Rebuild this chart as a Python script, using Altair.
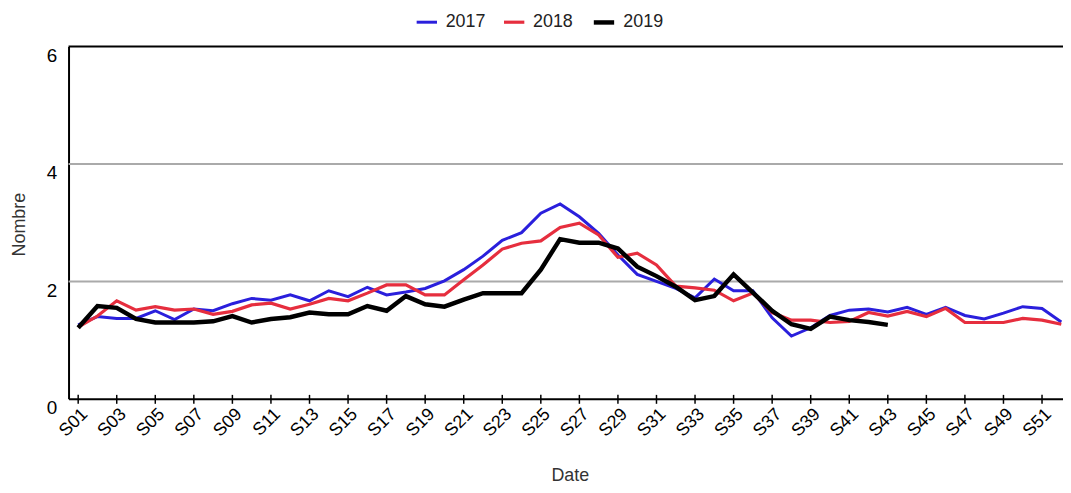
import altair as alt
import pandas as pd

weeks = list(range(1, 53))
years = ["2017", "2018", "2019"]
colors = ["#2a1fdc", "#e62e3e", "#000000"]
widths = [3, 3.2, 4.5]

y2017 = [1.26, 1.40, 1.37, 1.37, 1.50, 1.35, 1.53, 1.50, 1.62, 1.71,
         1.68, 1.77, 1.67, 1.84, 1.74, 1.90, 1.77, 1.82, 1.88, 2.01,
         2.20, 2.43, 2.70, 2.83, 3.16, 3.32, 3.10, 2.82, 2.45, 2.12,
         2.00, 1.88, 1.72, 2.04, 1.84, 1.84, 1.38, 1.07, 1.21, 1.42,
         1.51, 1.53, 1.48, 1.56, 1.44, 1.56, 1.42, 1.36, 1.46, 1.57,
         1.54, 1.31]
y2018 = [1.22, 1.41, 1.67, 1.51, 1.57, 1.51, 1.53, 1.44, 1.49, 1.60,
         1.63, 1.53, 1.61, 1.71, 1.67, 1.80, 1.94, 1.94, 1.77, 1.77,
         2.03, 2.28, 2.55, 2.65, 2.69, 2.92, 2.99, 2.79, 2.41, 2.48,
         2.28, 1.92, 1.89, 1.85, 1.67, 1.80, 1.47, 1.34, 1.34, 1.30,
         1.32, 1.47, 1.41, 1.49, 1.40, 1.54, 1.30, 1.30, 1.30, 1.37,
         1.34, 1.27]
y2019 = [1.21, 1.58, 1.55, 1.36, 1.30, 1.30, 1.30, 1.32, 1.41, 1.30,
         1.36, 1.39, 1.47, 1.44, 1.44, 1.58, 1.50, 1.75, 1.61, 1.57,
         1.69, 1.80, 1.80, 1.80, 2.20, 2.72, 2.66, 2.66, 2.56, 2.25,
         2.09, 1.91, 1.68, 1.75, 2.12, 1.81, 1.50, 1.27, 1.19, 1.40,
         1.34, 1.31, 1.26]

tick_weeks = list(range(1, 53, 2))
y_ticks = [0, 2, 4, 6]
grid_vals = [2, 4]
top_val = [6]

rows = []
for yr, vals in zip(years, [y2017, y2018, y2019]):
    for w, v in zip(weeks, vals):
        rows.append({"week": w, "value": v, "year": yr})
df = pd.DataFrame(rows)

W, H = 1010, 355
font = "Liberation Sans"

xscale = alt.Scale(domain=[0.5, 52.5], nice=False, zero=False)
yscale = alt.Scale(domain=[0, 6], nice=False)

x_axis = alt.Axis(
    orient="bottom",
    title="Date",
    values=tick_weeks,
    labelExpr="'S' + (datum.value < 10 ? '0' : '') + datum.value",
    labelAngle=-45,
    labelFontSize=18,
    labelColor="#000000",
    labelFont=font,
    labelPadding=6,
    tickSize=0,
    grid=False,
    domainColor="#000000",
    domainWidth=2,
    titleFont=font,
    titleFontSize=18,
    titleFontWeight="normal",
    titleColor="#333333",
    titleX=505,
    titleY=82,
    titleAlign="center",
    titleBaseline="alphabetic",
)
y_axis = alt.Axis(
    orient="left",
    title="Nombre",
    values=y_ticks,
    labelBaseline="top",
    labelFontSize=19,
    labelColor="#000000",
    labelFont=font,
    labelPadding=12,
    tickSize=0,
    grid=False,
    domainColor="#000000",
    domainWidth=2,
    titleFont=font,
    titleFontSize=18,
    titleFontWeight="normal",
    titleColor="#333333",
    titleX=-49,
    titleY=179,
    titleAngle=-90,
    titleAlign="center",
    titleBaseline="middle",
)

legend = alt.Legend(
    title=None,
    orient="none",
    direction="horizontal",
    legendX=349,
    legendY=-37,
    symbolType="stroke",
    symbolSize=420,
    labelFontSize=18,
    labelFont=font,
    labelColor="#222222",
    labelOffset=7,
    columnPadding=11,
)

grid = alt.Chart(pd.DataFrame({"value": grid_vals})).mark_rule(
    color="#aaaaaa", strokeWidth=2
).encode(y=alt.Y("value:Q", scale=yscale, axis=y_axis))

top = alt.Chart(pd.DataFrame({"value": top_val})).mark_rule(
    color="#000000", strokeWidth=2
).encode(y=alt.Y("value:Q", scale=yscale, axis=y_axis))

ticks = alt.Chart(pd.DataFrame({"week": tick_weeks})).mark_rule(
    color="#000000", strokeWidth=1.5
).encode(
    x=alt.X("week:Q", scale=xscale, axis=x_axis),
    y=alt.value(H - 4),
    y2=alt.value(H + 5),
)

lines = alt.Chart(df).mark_line(strokeJoin="miter", strokeCap="butt").encode(
    x=alt.X("week:Q", scale=xscale, axis=x_axis),
    y=alt.Y("value:Q", scale=yscale, axis=y_axis),
    color=alt.Color("year:N", scale=alt.Scale(domain=years, range=colors), legend=legend),
    strokeWidth=alt.StrokeWidth(
        "year:N", scale=alt.Scale(type="ordinal", domain=years, range=widths), legend=legend
    ),
)

chart = alt.layer(grid, top, lines, ticks).resolve_axis(
    x="shared", y="shared"
).resolve_scale(x="shared", y="shared").properties(
    width=W,
    height=H,
    background="white",
    autosize=alt.AutoSizeParams(type="none"),
    padding={"left": 61, "top": 37, "right": -8, "bottom": 85},
).configure_view(strokeWidth=0, stroke="transparent")

chart.save("out.html", embed_options={"renderer": "svg", "actions": False})
